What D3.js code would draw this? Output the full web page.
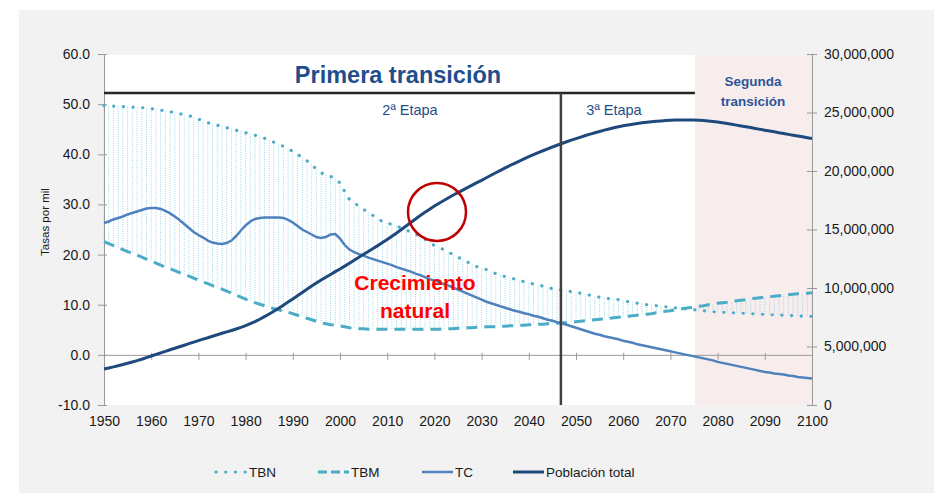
<!DOCTYPE html>
<html>
<head>
<meta charset="utf-8">
<script src="https://cdn.jsdelivr.net/npm/d3@7"></script>
<style>
  body { margin: 0; background: #fff; }
  svg { display: block; font-family: "Liberation Sans", Arial, sans-serif; }
  .axis path, .axis line { stroke: #9a9a9a; }
  .axis text { fill: #1a1a1a; font-size: 14px; }
</style>
</head>
<body>
<div class="chart"></div>
<script>
const WIDTH = 934;
const HEIGHT = 493;

// categories
const years = d3.range(1950, 2101);
const leftTicks = [-10, 0, 10, 20, 30, 40, 50, 60];
const rightTicks = [0, 5, 10, 15, 20, 25, 30];
const yearTicks = d3.range(1950, 2101, 10);

// tasa bruta de natalidad
const tbn = [
  49.7, 49.7, 49.6, 49.6, 49.5, 49.5, 49.4, 49.4, 49.3, 49.2,
  49.1, 49.0, 48.8, 48.7, 48.5, 48.3, 48.1, 47.9, 47.7, 47.4,
  47.0, 46.7, 46.3, 46.1, 45.8, 45.6, 45.3, 45.1, 44.8, 44.6,
  44.3, 44.1, 43.8, 43.5, 43.2, 42.8, 42.4, 42.0, 41.6, 41.1,
  40.6, 40.0, 39.3, 38.7, 38.0, 37.0, 36.3, 35.9, 35.6, 35.1,
  34.3, 32.6, 31.0, 30.4, 29.6, 29.0, 28.4, 27.8, 27.1, 26.6,
  26.3, 26.0, 25.7, 25.3, 24.9, 24.5, 24.1, 23.6, 23.1, 22.4,
  21.8, 21.4, 21.0, 20.5, 20.0, 19.5, 19.0, 18.5, 18.1, 17.6,
  17.3, 17.0, 16.6, 16.2, 15.9, 15.6, 15.4, 15.1, 14.8, 14.6,
  14.4, 14.1, 13.9, 13.7, 13.4, 13.2, 13.1, 12.9, 12.8, 12.6,
  12.4, 12.3, 12.1, 11.9, 11.7, 11.5, 11.3, 11.2, 11.1, 11.0,
  10.8, 10.6, 10.5, 10.3, 10.2, 10.0, 9.9, 9.8, 9.7, 9.6,
  9.5, 9.4, 9.3, 9.2, 9.1, 9.0, 8.9, 8.8, 8.7, 8.6,
  8.6, 8.5, 8.5, 8.4, 8.4, 8.3, 8.3, 8.2, 8.2, 8.1,
  8.1, 8.0, 8.0, 8.0, 7.9, 7.9, 7.8, 7.8, 7.7, 7.7,
  7.7
];

// tasa bruta de mortalidad
const tbm = [
  22.6, 22.2, 21.8, 21.4, 21.0, 20.6, 20.3, 19.9, 19.5, 19.1,
  18.7, 18.3, 17.9, 17.5, 17.2, 16.8, 16.4, 16.0, 15.7, 15.3,
  14.9, 14.5, 14.2, 13.8, 13.4, 13.1, 12.7, 12.3, 11.9, 11.5,
  11.1, 10.8, 10.4, 10.1, 9.8, 9.5, 9.2, 9.0, 8.7, 8.5,
  8.2, 7.9, 7.6, 7.3, 7.0, 6.7, 6.4, 6.2, 6.0, 5.9,
  5.8, 5.6, 5.4, 5.3, 5.2, 5.2, 5.1, 5.1, 5.1, 5.1,
  5.1, 5.1, 5.1, 5.1, 5.1, 5.1, 5.1, 5.1, 5.1, 5.1,
  5.1, 5.1, 5.2, 5.2, 5.2, 5.3, 5.3, 5.4, 5.4, 5.5,
  5.5, 5.6, 5.6, 5.6, 5.7, 5.7, 5.8, 5.8, 5.9, 5.9,
  6.0, 6.0, 6.1, 6.1, 6.2, 6.2, 6.3, 6.4, 6.4, 6.5,
  6.6, 6.7, 6.8, 6.9, 7.0, 7.1, 7.2, 7.3, 7.4, 7.5,
  7.6, 7.7, 7.8, 7.9, 8.0, 8.1, 8.2, 8.4, 8.5, 8.7,
  8.8, 9.0, 9.1, 9.3, 9.4, 9.5, 9.7, 9.8, 10.0, 10.1,
  10.3, 10.4, 10.5, 10.7, 10.8, 10.9, 11.0, 11.2, 11.3, 11.4,
  11.5, 11.6, 11.7, 11.8, 11.9, 12.0, 12.1, 12.2, 12.2, 12.3,
  12.4
];

// tasa de crecimiento
const tc = [
  26.3, 26.6, 27.0, 27.3, 27.6, 28.0, 28.3, 28.6, 28.9, 29.2,
  29.3, 29.3, 29.1, 28.7, 28.2, 27.6, 26.9, 26.1, 25.3, 24.5,
  23.9, 23.4, 22.8, 22.4, 22.2, 22.1, 22.3, 22.8, 23.7, 24.8,
  25.8, 26.6, 27.1, 27.3, 27.4, 27.4, 27.4, 27.4, 27.3, 26.9,
  26.4, 25.7, 25.0, 24.5, 24.0, 23.5, 23.3, 23.5, 24.0, 24.1,
  23.2, 21.9, 21.0, 20.5, 20.1, 19.8, 19.4, 19.1, 18.8, 18.5,
  18.2, 17.9, 17.5, 17.2, 16.9, 16.6, 16.2, 15.9, 15.5, 15.1,
  14.8, 14.5, 14.1, 13.8, 13.4, 13.0, 12.6, 12.2, 11.8, 11.4,
  11.0, 10.6, 10.3, 10.0, 9.7, 9.4, 9.1, 8.8, 8.6, 8.3,
  8.1, 7.8, 7.6, 7.3, 7.0, 6.8, 6.5, 6.3, 6.0, 5.7,
  5.4, 5.1, 4.8, 4.5, 4.2, 4.0, 3.7, 3.5, 3.3, 3.1,
  2.8, 2.6, 2.4, 2.1, 1.9, 1.7, 1.5, 1.3, 1.1, 0.9,
  0.7, 0.5, 0.3, 0.1, -0.1, -0.3, -0.5, -0.7, -0.9, -1.1,
  -1.4, -1.6, -1.8, -2.0, -2.2, -2.4, -2.6, -2.8, -3.0, -3.2,
  -3.4, -3.5, -3.7, -3.8, -3.9, -4.1, -4.2, -4.4, -4.5, -4.6,
  -4.7
];

// poblacion total, millones
const poblacionM = [
  3.08, 3.17, 3.26, 3.36, 3.46, 3.57, 3.68, 3.79, 3.91, 4.05,
  4.19, 4.32, 4.45, 4.58, 4.72, 4.85, 4.98, 5.11, 5.24, 5.37,
  5.50, 5.63, 5.75, 5.88, 6.00, 6.13, 6.25, 6.37, 6.50, 6.63,
  6.78, 6.95, 7.13, 7.33, 7.55, 7.78, 8.02, 8.27, 8.53, 8.80,
  9.07, 9.34, 9.62, 9.89, 10.17, 10.43, 10.68, 10.92, 11.16, 11.40,
  11.63, 11.87, 12.12, 12.38, 12.63, 12.88, 13.12, 13.37, 13.62, 13.88,
  14.15, 14.43, 14.71, 15.00, 15.30, 15.60, 15.90, 16.19, 16.47, 16.74,
  17.00, 17.25, 17.48, 17.72, 17.95, 18.15, 18.37, 18.58, 18.79, 19.00,
  19.20, 19.42, 19.64, 19.85, 20.06, 20.27, 20.47, 20.66, 20.85, 21.04,
  21.22, 21.40, 21.57, 21.73, 21.89, 22.05, 22.20, 22.35, 22.50, 22.64,
  22.77, 22.90, 23.03, 23.15, 23.27, 23.38, 23.49, 23.59, 23.69, 23.78,
  23.86, 23.93, 24.00, 24.06, 24.12, 24.17, 24.21, 24.25, 24.28, 24.31,
  24.33, 24.35, 24.36, 24.36, 24.36, 24.35, 24.33, 24.31, 24.27, 24.23,
  24.18, 24.12, 24.06, 23.99, 23.92, 23.85, 23.78, 23.71, 23.64, 23.56,
  23.49, 23.42, 23.35, 23.27, 23.20, 23.13, 23.06, 22.99, 22.92, 22.85,
  22.78
];

// limites de etapas (años)
const stageBoundary = 2046.8;
const secondTransitionStart = 2075.2;

const COLORS = {
  tbn: '#4bacc6',
  tbm: '#4bacc6',
  tc: '#4f81bd',
  pop: '#1f497d',
  drop: '#9dd6e6'
};

const svg = d3.select('.chart')
              .append('svg')
              .attr('width', WIDTH)
              .attr('height', HEIGHT);

const x = d3.scaleLinear().domain([1950, 2100]).range([104, 812]);
const yL = d3.scaleLinear().domain([-10, 60]).range([405, 54]);
const yR = d3.scaleLinear().domain([0, 30]).range([405, 54]);

// backgrounds
svg.append('rect').attr('x', 19).attr('y', 10)
   .attr('width', WIDTH - 19).attr('height', HEIGHT - 10).attr('fill', '#f2f2f2');
svg.append('rect')
   .attr('x', x(1950)).attr('y', yL(60) + 1)
   .attr('width', x(2100) - x(1950)).attr('height', yL(-10) - yL(60) - 1)
   .attr('fill', '#fff');
svg.append('rect')
   .attr('x', x(secondTransitionStart)).attr('y', yL(60) + 1)
   .attr('width', x(2100) - x(secondTransitionStart))
   .attr('height', yL(-10) - yL(60) - 1)
   .attr('fill', '#f7eded');

// high-low lines between TBN and TBM
svg.append('g').selectAll('line').data(years).enter().append('line')
   .attr('x1', (d) => x(d)).attr('x2', (d) => x(d))
   .attr('y1', (d, i) => yL(tbn[i]))
   .attr('y2', (d, i) => yL(tbm[i]))
   .attr('stroke', COLORS.drop)
   .attr('stroke-width', 1)
   .attr('stroke-dasharray', '1,1.3');

// axes
const leftAxis = svg.append('g').attr('class', 'axis')
   .attr('transform', `translate(${x(1950)},0)`)
   .call(d3.axisLeft(yL).tickValues(leftTicks)
           .tickFormat((d) => d.toFixed(1))
           .tickSizeInner(6).tickSizeOuter(0).tickPadding(8));
leftAxis.selectAll('.tick line').attr('x1', 3);

const rightAxis = svg.append('g').attr('class', 'axis')
   .attr('transform', `translate(${x(2100)},0)`)
   .call(d3.axisRight(yR).tickValues(rightTicks)
           .tickFormat((d) => d3.format(',')(d * 1e6))
           .tickSizeInner(5).tickSizeOuter(0).tickPadding(7));
rightAxis.selectAll('.tick line').attr('x1', -5);

const xAxis = svg.append('g').attr('class', 'axis')
   .attr('transform', `translate(0,${yL(0)})`)
   .call(d3.axisBottom(x).tickValues(yearTicks).tickFormat('')
           .tickSizeInner(5).tickSizeOuter(0));
xAxis.selectAll('.tick line').attr('y1', -2);

svg.append('g').attr('class', 'axis')
   .attr('transform', `translate(0,${yL(-10)})`)
   .call(d3.axisBottom(x).tickValues(yearTicks).tickFormat(d3.format('d'))
           .tickSize(0).tickPadding(11))
   .call((g) => g.select('.domain').remove());

svg.append('text')
   .attr('transform', `translate(49,222) rotate(-90)`)
   .attr('text-anchor', 'middle')
   .attr('font-size', 11.5)
   .attr('fill', '#1a1a1a')
   .text('Tasas por mil');

// series
const line = (values, scale) => d3.line()
   .x((d, i) => x(years[i]))
   .y((d) => scale(d))(values);

svg.append('path').attr('d', line(tbm, yL))
   .attr('fill', 'none').attr('stroke', COLORS.tbm)
   .attr('stroke-width', 3).attr('stroke-dasharray', '11,7');
svg.append('path').attr('d', line(tc, yL))
   .attr('fill', 'none').attr('stroke', COLORS.tc).attr('stroke-width', 2.5);
svg.append('path').attr('d', line(tbn, yL))
   .attr('fill', 'none').attr('stroke', COLORS.tbn)
   .attr('stroke-width', 3.2).attr('stroke-linecap', 'round')
   .attr('stroke-dasharray', '0.1,9.6');
svg.append('path').attr('d', line(poblacionM, yR))
   .attr('fill', 'none').attr('stroke', COLORS.pop).attr('stroke-width', 3);

// stage lines
svg.append('line')
   .attr('x1', x(1950)).attr('x2', x(secondTransitionStart))
   .attr('y1', 93).attr('y2', 93)
   .attr('stroke', '#262626').attr('stroke-width', 2.5);
svg.append('line')
   .attr('x1', x(stageBoundary)).attr('x2', x(stageBoundary))
   .attr('y1', 93).attr('y2', yL(-10))
   .attr('stroke', '#404040').attr('stroke-width', 2.5);

// annotations
svg.append('text').attr('x', 398).attr('y', 83)
   .attr('text-anchor', 'middle').attr('font-size', 23.5)
   .attr('font-weight', 'bold').attr('fill', '#1f4e8c')
   .text('Primera transición');
svg.append('text').attr('x', 410).attr('y', 115)
   .attr('text-anchor', 'middle').attr('font-size', 14.5)
   .attr('fill', '#1f4e8c').text('2ª Etapa');
svg.append('text').attr('x', 614).attr('y', 115)
   .attr('text-anchor', 'middle').attr('font-size', 14.5)
   .attr('fill', '#1f4e8c').text('3ª Etapa');
svg.append('text').attr('text-anchor', 'middle')
   .attr('font-size', 13.5).attr('font-weight', 'bold').attr('fill', '#2f5597')
   .selectAll('tspan').data(['Segunda', 'transición']).enter().append('tspan')
   .attr('x', 753).attr('y', (d, i) => 86 + i * 20).text((d) => d);

svg.append('circle').attr('cx', 437).attr('cy', 212).attr('r', 29)
   .attr('fill', 'none').attr('stroke', '#c00000').attr('stroke-width', 2.5);

svg.append('text').attr('text-anchor', 'middle')
   .attr('font-size', 21).attr('font-weight', 'bold').attr('fill', '#ff0000')
   .selectAll('tspan').data(['Crecimiento', 'natural']).enter().append('tspan')
   .attr('x', 415).attr('y', (d, i) => 290 + i * 28).text((d) => d);

// legend
const legendItems = [
  {label: 'TBN', x: 216, color: COLORS.tbn, width: 3.2, dash: '0.1,9.6', cap: 'round'},
  {label: 'TBM', x: 318, color: COLORS.tbm, width: 3, dash: '9,4', cap: 'butt'},
  {label: 'TC', x: 422, color: COLORS.tc, width: 2.5, dash: null, cap: 'butt'},
  {label: 'Población total', x: 513, color: COLORS.pop, width: 3, dash: null, cap: 'butt'}
];
const legend = svg.append('g').selectAll('g').data(legendItems).enter().append('g')
   .attr('transform', (d) => `translate(${d.x},472)`);
legend.append('line')
   .attr('x1', 0).attr('x2', 31).attr('y1', 0).attr('y2', 0)
   .attr('stroke', (d) => d.color)
   .attr('stroke-width', (d) => d.width)
   .attr('stroke-linecap', (d) => d.cap)
   .attr('stroke-dasharray', (d) => d.dash);
legend.append('text')
   .attr('x', 33).attr('y', 5)
   .attr('font-size', 13.5).attr('fill', '#1a1a1a')
   .text((d) => d.label);
</script>
</body>
</html>
